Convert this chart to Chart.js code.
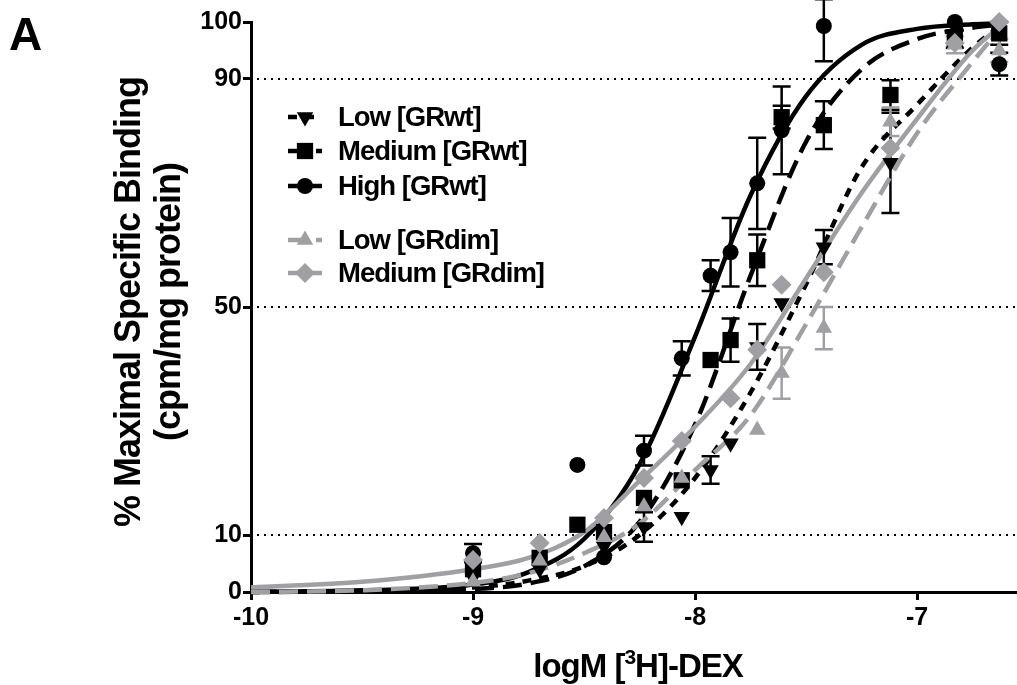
<!DOCTYPE html>
<html><head><meta charset="utf-8">
<script src="https://cdn.jsdelivr.net/npm/chart.js@4.4.0/dist/chart.umd.min.js"></script>
<style>html,body{margin:0;padding:0;background:#fff;overflow:hidden}#wrap{width:1017px;height:685px}</style>
</head><body><div id="wrap"><canvas id="c" width="1017" height="685"></canvas></div>
<script>
// ---- data ----
const xTicks = [-10, -9, -8, -7];
const yTicks = [0, 10, 50, 90, 100];
const gridValues = [10, 50, 90];

// fitted curves
const curveX        = [-10, -9.5, -9, -8.75, -8.5, -8.25, -8, -7.75, -7.5, -7.25, -7, -6.75, -6.6];
const highWtCurve   = [0.05, 0.3, 1.3, 3.5, 9.3, 22.4, 44.8, 69.6, 87, 96, 98.8, 99.6, 99.8];
const medWtCurve    = [0, 0.1, 0.5, 1.5, 4.5, 12.3, 29.4, 55.5, 79, 91.7, 97, 99, 99.6];
const lowWtCurve    = [0, 0.2, 0.8, 2, 4.5, 10, 20, 35, 54, 74.5, 85.5, 95.5, 100];
const lowDimCurve   = [0, 0.3, 1.6, 3.3, 6.8, 12, 21.4, 31, 47, 64, 80.5, 93, 100];
const medDimCurve   = [0.8, 1.8, 4, 6, 10.5, 19.5, 29, 40, 55, 70, 83, 95, 100];

// measured points (mean and error)
const lowWtX   = [-9, -8.7, -8.41, -8.23, -8.06, -7.93, -7.84, -7.72, -7.61, -7.42, -7.12, -6.83, -6.63];
const lowWtY   = [2.5, 4, 8, 11.4, 13.2, 21.4, 26.1, 43, 50.7, 60.5, 75.3, 97, 99.5];
const lowWtErr = [0, 0, 0, 2.6, 0, 2.4, 0, 4, 0, 3, 8.8, 0, 0];

const medWtX   = [-9, -8.7, -8.53, -8.41, -8.23, -8.06, -7.93, -7.84, -7.72, -7.61, -7.42, -7.12, -6.83, -6.63];
const medWtY   = [4, 6, 11.8, 10.5, 16.5, 19.6, 40.7, 44.2, 58.2, 83.3, 81.9, 87.2, 97, 98];
const medWtErr = [0, 0, 0, 0, 0, 0, 0, 3.8, 4.5, 2, 4.2, 2.6, 1.5, 2];

const highWtX   = [-9, -8.7, -8.53, -8.41, -8.23, -8.06, -7.93, -7.84, -7.72, -7.61, -7.42, -6.83, -6.63];
const highWtY   = [6.8, 6, 22.3, 6.1, 24.8, 41, 55.5, 59.6, 71.7, 81, 99.3, 100, 92.6];
const highWtErr = [1.6, 0, 0, 0, 2.6, 3, 2.7, 6, 8, 7.7, 6.2, 0, 2];

const lowDimX   = [-9, -8.7, -8.41, -8.23, -8.06, -7.72, -7.61, -7.42, -7.12, -6.83, -6.63];
const lowDimY   = [1.8, 5.5, 9.6, 15, 20, 28.4, 38.4, 46.3, 82.5, 96, 95];
const lowDimErr = [0, 0, 0, 0, 0, 0, 4.5, 3.7, 2.5, 1.5, 2];

const medDimX   = [-9, -8.7, -8.41, -8.23, -8.06, -7.84, -7.72, -7.61, -7.42, -7.12, -6.83, -6.63];
const medDimY   = [5.6, 8.6, 13, 20, 26.5, 34, 42.5, 53.9, 56.1, 77.9, 96.3, 100];
const medDimErr = [0, 0, 0, 0, 0, 0, 0, 0, 0, 0, 0, 0];

const legendLabels = ['Low [GRwt]', 'Medium [GRwt]', 'High [GRwt]', 'Low [GRdim]', 'Medium [GRdim]'];

// ---- styling ----
const BLACK = '#000000';
const GRAY = 'rgb(160,160,164)';
const FONT = '"Liberation Sans", Arial, Helvetica, sans-serif';
const SHORT_DASH = [9, 8];
const LONG_DASH = [19, 9];

const pts = (xs, ys) => xs.map((x, i) => ({x: x, y: ys[i]}));

function curveDS(ys, color, dash, order) {
  return {type: 'scatter', data: pts(curveX, ys), showLine: true, borderColor: color, borderWidth: 4.5,
    borderDash: dash, borderCapStyle: 'butt', cubicInterpolationMode: 'monotone', pointRadius: 0,
    pointHoverRadius: 0, fill: false, order: order, clip: false};
}
function pointDS(xs, ys, errs, color, style, radius, rotation, order) {
  return {type: 'scatter', data: pts(xs, ys), showLine: false, backgroundColor: color, borderColor: color,
    pointStyle: style, pointRadius: radius, pointRotation: rotation, pointBorderWidth: 0, pointHoverRadius: radius,
    order: order, clip: false, errs: errs};
}

const datasets = [
  pointDS(lowWtX, lowWtY, lowWtErr, BLACK, 'triangle', 9.5, 180, 4),
  pointDS(medWtX, medWtY, medWtErr, BLACK, 'rect', 11.5, 0, 3),
  pointDS(highWtX, highWtY, highWtErr, BLACK, 'circle', 8, 0, 2),
  pointDS(lowDimX, lowDimY, lowDimErr, GRAY, 'triangle', 9.5, 0, 1),
  pointDS(medDimX, medDimY, medDimErr, GRAY, 'rectRot', 10, 0, 0),
  curveDS(lowWtCurve, BLACK, SHORT_DASH, 9),
  curveDS(medWtCurve, BLACK, LONG_DASH, 8),
  curveDS(highWtCurve, BLACK, [], 7),
  curveDS(lowDimCurve, GRAY, LONG_DASH, 6),
  curveDS(medDimCurve, GRAY, [], 5)
];

function marker(ctx, style, x, y, r, color, rot) {
  ctx.save();
  ctx.fillStyle = color;
  ctx.translate(x, y);
  ctx.beginPath();
  if (style === 'circle') { ctx.arc(0, 0, r, 0, Math.PI * 2); }
  else if (style === 'rect') { const s = r * Math.SQRT1_2; ctx.rect(-s, -s, 2 * s, 2 * s); }
  else if (style === 'rectRot') { ctx.moveTo(0, -r); ctx.lineTo(r, 0); ctx.lineTo(0, r); ctx.lineTo(-r, 0); ctx.closePath(); }
  else if (style === 'triangle') {
    ctx.rotate(rot * Math.PI / 180);
    for (let k = 0; k < 3; k++) { const a = -Math.PI / 2 + k * 2 * Math.PI / 3; const px = r * Math.cos(a), py = r * Math.sin(a); if (k === 0) ctx.moveTo(px, py); else ctx.lineTo(px, py); }
    ctx.closePath();
  }
  ctx.fill();
  ctx.restore();
}

const deco = {
  id: 'deco',
  beforeDatasetsDraw(chart) {
    const {ctx, chartArea, scales} = chart;
    const xs = scales.x, ys = scales.y;
    ctx.save();
    ctx.strokeStyle = BLACK; ctx.lineWidth = 2; ctx.setLineDash([2, 5]);
    gridValues.forEach(v => {
      const py = Math.round(ys.getPixelForValue(v));
      ctx.beginPath(); ctx.moveTo(chartArea.left + 6, py); ctx.lineTo(chartArea.right, py); ctx.stroke();
    });
    ctx.setLineDash([]);
    // error bars
    chart.data.datasets.forEach(ds => {
      if (!ds.errs) return;
      ctx.strokeStyle = ds.borderColor; ctx.lineWidth = 2.5;
      ds.data.forEach((p, i) => {
        const e = ds.errs[i]; if (!e) return;
        const px = xs.getPixelForValue(p.x);
        const t = ys.getPixelForValue(Math.min(p.y + e, 104));
        const b = ys.getPixelForValue(p.y - e);
        ctx.beginPath();
        ctx.moveTo(px, t); ctx.lineTo(px, b);
        ctx.moveTo(px - 9, t); ctx.lineTo(px + 9, t);
        ctx.moveTo(px - 9, b); ctx.lineTo(px + 9, b);
        ctx.stroke();
      });
    });
    ctx.restore();
  },
  afterDraw(chart) {
    const {ctx} = chart;
    ctx.save();
    ctx.fillStyle = BLACK;
    if ('letterSpacing' in ctx) ctx.letterSpacing = '-1px';
    // panel letter
    ctx.font = 'bold 46px ' + FONT;
    ctx.textAlign = 'left'; ctx.textBaseline = 'alphabetic';
    ctx.fillText('A', 9, 50);
    // y title
    ctx.save();
    ctx.translate(0, 302);
    ctx.rotate(-Math.PI / 2);
    ctx.font = 'bold 36px ' + FONT;
    ctx.textAlign = 'center'; ctx.textBaseline = 'middle';
    ctx.fillText('% Maximal Specific Binding', 0, 130);
    ctx.fillText('(cpm/mg protein)', 0, 170);
    ctx.restore();
    // x title with superscript
    ctx.textAlign = 'left'; ctx.textBaseline = 'alphabetic';
    const big = 'bold 33px ' + FONT, small = 'bold 21px ' + FONT;
    const p1 = 'logM [', p2 = '3', p3 = 'H]-DEX';
    ctx.font = big; const w1 = ctx.measureText(p1).width, w3 = ctx.measureText(p3).width;
    ctx.font = small; const w2 = ctx.measureText(p2).width;
    let x0 = 638 - (w1 + w2 + w3) / 2; const base = 677;
    ctx.font = big; ctx.fillText(p1, x0, base);
    ctx.font = small; ctx.fillText(p2, x0 + w1, base - 13);
    ctx.font = big; ctx.fillText(p3, x0 + w1 + w2, base);
    // legend
    const rows = [
      {y: 117, color: BLACK, dash: SHORT_DASH, style: 'triangle', r: 9.5, rot: 180},
      {y: 151, color: BLACK, dash: LONG_DASH, style: 'rect', r: 11.5, rot: 0},
      {y: 186, color: BLACK, dash: [], style: 'circle', r: 8, rot: 0},
      {y: 240, color: GRAY, dash: LONG_DASH, style: 'triangle', r: 9.5, rot: 0},
      {y: 273, color: GRAY, dash: [], style: 'rectRot', r: 10, rot: 0}
    ];
    ctx.font = 'bold 27.5px ' + FONT;
    ctx.textBaseline = 'middle';
    rows.forEach((r, i) => {
      ctx.save();
      ctx.strokeStyle = r.color; ctx.lineWidth = 4.5; ctx.setLineDash(r.dash);
      ctx.beginPath(); ctx.moveTo(288, r.y); ctx.lineTo(322, r.y); ctx.stroke();
      ctx.restore();
      marker(ctx, r.style, 305, r.y, r.r, r.color, r.rot);
      ctx.fillStyle = BLACK;
      ctx.fillText(legendLabels[i], 338, r.y + 1);
    });
    ctx.restore();
  }
};

new Chart(document.getElementById('c'), {
  type: 'scatter',
  data: {datasets: datasets},
  options: {
    responsive: false, animation: false, events: [],
    layout: {autoPadding: false, padding: {top: 22, right: 0, bottom: 0, left: 0}},
    plugins: {legend: {display: false}, tooltip: {enabled: false}, title: {display: false}},
    scales: {
      x: {
        type: 'linear', min: -10, max: -6.55,
        afterBuildTicks: s => { s.ticks = xTicks.map(v => ({value: v})); },
        afterFit: s => { s.height = 93; },
        ticks: {color: BLACK, font: {family: FONT, size: 25, weight: 'bold'}, padding: 3, maxRotation: 0,
          callback: v => String(v)},
        grid: {display: true, drawOnChartArea: false, drawTicks: true, tickLength: 8, color: BLACK, lineWidth: 3},
        border: {display: true, color: BLACK, width: 3}
      },
      y: {
        type: 'linear', min: 0, max: 100,
        afterBuildTicks: s => { s.ticks = yTicks.map(v => ({value: v})); },
        afterFit: s => { s.width = 251; },
        ticks: {color: BLACK, font: {family: FONT, size: 25, weight: 'bold'}, padding: 1, callback: v => String(v)},
        grid: {display: true, drawOnChartArea: false, drawTicks: true, tickLength: 8, color: BLACK, lineWidth: 3},
        border: {display: true, color: BLACK, width: 3}
      }
    }
  },
  plugins: [deco]
});
</script></body></html>
